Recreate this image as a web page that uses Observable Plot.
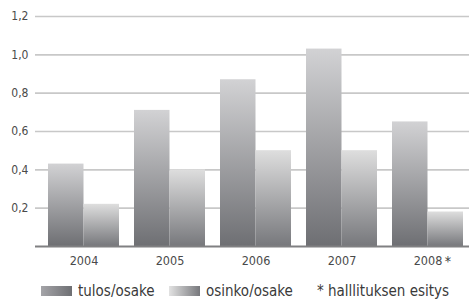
<!DOCTYPE html>
<html>
<head>
<meta charset="utf-8">
<script src="https://cdn.jsdelivr.net/npm/d3@7"></script>
<script src="https://cdn.jsdelivr.net/npm/@observablehq/plot@0.6"></script>
<style>
  html, body { margin: 0; padding: 0; background: #fff; }
  body { width: 469px; height: 300px; overflow: hidden; font-family: "Liberation Sans Narrow", "DejaVu Sans Condensed", sans-serif; }
  #legend { position: relative; height: 30px; color: #3a3a3a; font-size: 15px; }
  #legend .item { position: absolute; top: 12px; display: flex; align-items: center; white-space: nowrap; }
  #legend .sw { width: 31px; height: 10px; margin-right: 6px; }
</style>
</head>
<body>
<div id="chart"></div>
<div id="legend"></div>
<script>
const years = ["2004", "2005", "2006", "2007", "2008"];
const tulosOsake = [0.43, 0.71, 0.87, 1.03, 0.65];
const osinkoOsake = [0.22, 0.40, 0.50, 0.50, 0.18];
const yTicks = [0.2, 0.4, 0.6, 0.8, 1.0, 1.2];
const seriesNames = ["tulos/osake", "osinko/osake"];
const noteYear = "2008";
const noteText = "* halllituksen esitys";

const tulos = years.map((y, i) => ({year: y, value: tulosOsake[i]}));
const osinko = years.map((y, i) => ({year: y, value: osinkoOsake[i]}));

const fmt = d => d3.format(".1f")(d).replace(".", ",");

const plot = Plot.plot({
  width: 469,
  height: 270,
  marginLeft: 35,
  marginRight: 0,
  marginTop: 16,
  marginBottom: 24,
  style: {fontFamily: '"Liberation Sans Narrow", "DejaVu Sans Condensed", sans-serif', color: "#3a3a3a", background: "#fff"},
  x: {domain: years, paddingInner: 0.18, paddingOuter: 0.1, align: 0.65, axis: null, label: null},
  y: {domain: [0, 1.2], axis: null, label: null},
  marks: [
    Plot.ruleY(yTicks, {stroke: "#c8c8c8", strokeWidth: 1.6}),
    Plot.barY(tulos, {x: "year", y: "value", fill: "url(#gradTulos)", insetRight: 35.5}),
    Plot.barY(osinko, {x: "year", y: "value", fill: "url(#gradOsinko)", insetLeft: 35.5}),
    Plot.ruleY([0], {stroke: "#808082", strokeWidth: 2}),
    Plot.axisY(yTicks, {tickSize: 0, tickPadding: 7, tickFormat: fmt, fontSize: 12, fill: "#4a4a4a", label: null}),
    Plot.axisX(years, {tickSize: 0, tickPadding: 10, fontSize: 12.5, fill: "#4a4a4a", label: null}),
    Plot.text([noteYear], {x: d => d, text: () => "*", frameAnchor: "bottom", dy: 19, dx: 20, fontSize: 14, fill: "#3a3a3a"})
  ]
});

const svg = d3.select(plot);
const defs = svg.insert("defs", ":first-child");
function grad(id, stops, horizontal) {
  const g = defs.append("linearGradient").attr("id", id)
    .attr("x1", 0).attr("y1", 0).attr("x2", horizontal ? 1 : 0).attr("y2", horizontal ? 0 : 1);
  stops.forEach(([o, c]) => g.append("stop").attr("offset", o).attr("stop-color", c));
}
grad("gradTulos", [[0, "#d2d2d4"], [1, "#6e6f73"]]);
grad("gradOsinko", [[0, "#dedede"], [1, "#77787c"]]);
document.getElementById("chart").appendChild(plot);

const legend = document.getElementById("legend");
const items = [
  {x: 41, bg: "linear-gradient(to right, #a4a4a8, #6e6f73)", label: seriesNames[0]},
  {x: 169, bg: "linear-gradient(to right, #e2e2e2, #77787c)", label: seriesNames[1]},
  {x: 317, bg: null, label: noteText}
];
for (const it of items) {
  const d = document.createElement("div");
  d.className = "item";
  d.style.left = it.x + "px";
  if (it.bg) {
    const s = document.createElement("span");
    s.className = "sw";
    s.style.background = it.bg;
    d.appendChild(s);
  }
  const t = document.createElement("span");
  t.textContent = it.label;
  d.appendChild(t);
  legend.appendChild(d);
}
</script>
</body>
</html>
